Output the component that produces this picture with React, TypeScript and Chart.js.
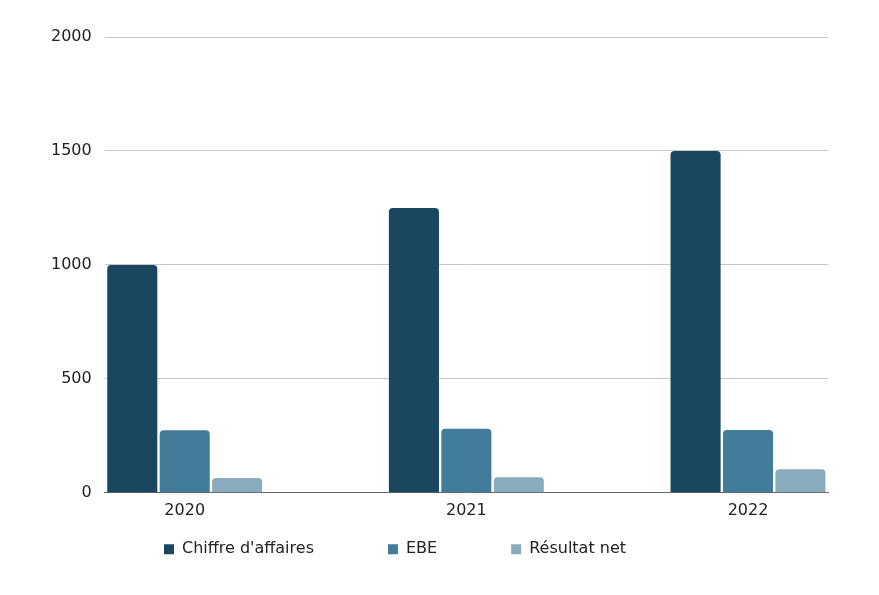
import React, { useEffect, useRef } from "react";
import { Chart, registerables } from "chart.js";

Chart.register(...registerables);

const years = [2020, 2021, 2022];
const chiffreAffaires = [1000, 1250, 1500];
const ebe = [274, 281, 276];
const resultatNet = [65, 68, 103];
const seriesNames = ["Chiffre d'affaires", "EBE", "Résultat net"];
const colors = ["#18475f", "#437b9a", "#88acbd"];
const yTicks = [0, 500, 1000, 1500, 2000];

const FONT = "'DejaVu Sans', sans-serif";
const LEGEND_PAD = 74;
const LEGEND_CENTER_X = 387; // canvas coords
const LEGEND_OFFSET_Y = 58; // text centre below chart area bottom

const legendPlace = {
  id: "legendPlace",
  afterLayout(chart: any) {
    const lg = chart.legend;
    if (lg) {
      lg.left = 0;
      lg.right = 2 * LEGEND_CENTER_X;
      lg.top = chart.chartArea.bottom + LEGEND_OFFSET_Y - LEGEND_PAD - 9.6;
      lg.bottom = chart.height;
    }
  },
};

export default function App() {
  const ref = useRef<HTMLCanvasElement>(null);
  useEffect(() => {
    if (!ref.current) return;
    const series = [chiffreAffaires, ebe, resultatNet];
    const chart = new Chart(ref.current, {
      type: "bar",
      data: {
        labels: years,
        datasets: series.map((d, i) => ({
          label: seriesNames[i],
          data: d,
          backgroundColor: colors[i],
          borderRadius: 4,
          borderSkipped: "bottom",
          barPercentage: 0.955,
          categoryPercentage: 0.5585,
        })),
      },
      options: {
        animation: false,
        responsive: false,
        layout: { padding: { top: 29, right: 43, bottom: 19, left: 30 } },
        scales: {
          x: {
            type: "linear",
            offset: false,
            min: years[0] - 0.284,
            max: years[years.length - 1] + 0.284,
            grid: { display: false, drawTicks: false },
            border: { display: true, color: "#666666", width: 1 },
            ticks: {
              includeBounds: false,
              stepSize: 1,
              color: "#222222",
              font: { family: FONT, size: 16 },
              padding: 8,
              callback: (v: any) => String(v),
            },
            afterBuildTicks: (scale: any) => {
              scale.ticks = years.map((y) => ({ value: y }));
            },
          },
          y: {
            min: 0,
            max: 2000,
            grid: { color: "#c6c6c6", lineWidth: 1, drawTicks: false },
            border: { display: false },
            ticks: {
              stepSize: 500,
              color: "#222222",
              font: { family: FONT, size: 16 },
              padding: 13,
              callback: (v: any) => String(v),
            },
            afterBuildTicks: (scale: any) => {
              scale.ticks = yTicks.map((v) => ({ value: v }));
            },
          },
        },
        plugins: {
          legend: {
            position: "bottom",
            maxHeight: 40,
            labels: {
              boxWidth: 10,
              boxHeight: 10,
              padding: LEGEND_PAD,
              color: "#222222",
              font: { family: FONT, size: 16 },
            },
          },
          tooltip: { enabled: false },
        },
      },
      plugins: [legendPlace],
    });
    return () => chart.destroy();
  }, []);
  return <canvas ref={ref} width={863} height={579} style={{ display: "block" }} />;
}
